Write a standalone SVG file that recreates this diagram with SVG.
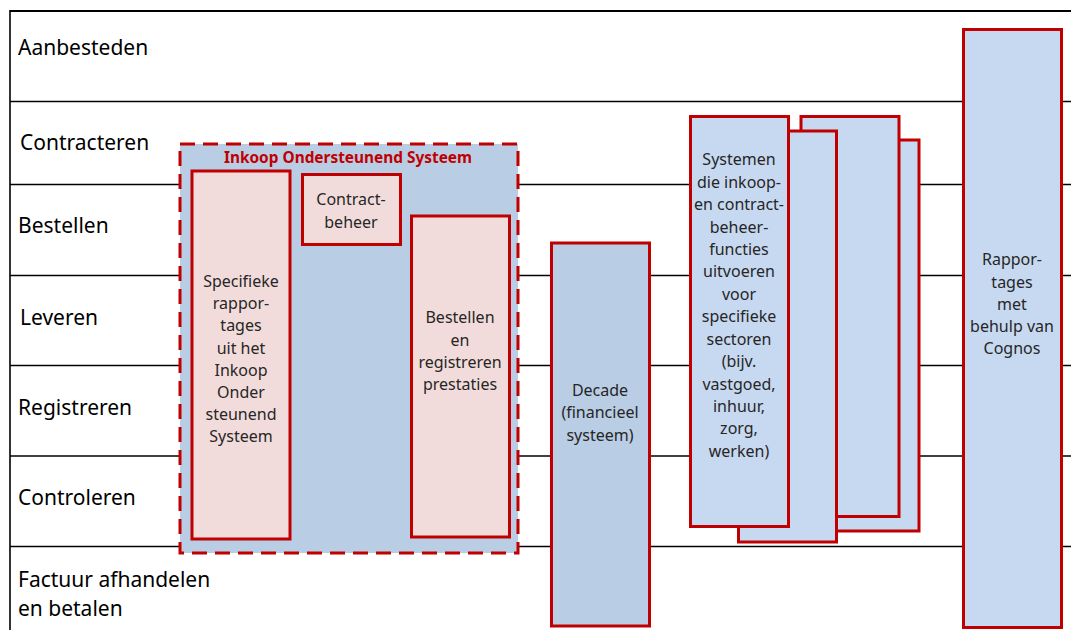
<svg xmlns="http://www.w3.org/2000/svg" width="1071" height="630" viewBox="0 0 1071 630">
<style>
.lane{fill:none;stroke:#000;stroke-width:1.6}
.lbl{font-family:"Noto Sans",sans-serif;font-size:21px;fill:#000}
.box{stroke:#c00000;stroke-width:3}
.pink{fill:#f2dcdb}
.blue{fill:#b9cde5}
.lblue{fill:#c6d9f1}
.t{font-family:"Noto Sans",sans-serif;font-size:16px;fill:#262626;text-anchor:middle}
.title{font-family:"Noto Sans",sans-serif;font-size:15.4px;font-weight:bold;fill:#c00000;text-anchor:middle}
</style>
<rect width="1071" height="630" fill="#fff"/>
<g id="lanes">
<line class="lane" x1="10" y1="11" x2="1071" y2="11" style="stroke-width:2.2"/>
<line class="lane" x1="10" y1="10" x2="10" y2="630"/>
<line class="lane" x1="10" y1="101.5" x2="1071" y2="101.5"/>
<line class="lane" x1="10" y1="184.5" x2="1071" y2="184.5"/>
<line class="lane" x1="10" y1="275.5" x2="1071" y2="275.5"/>
<line class="lane" x1="10" y1="365.5" x2="1071" y2="365.5"/>
<line class="lane" x1="10" y1="456" x2="1071" y2="456"/>
<line class="lane" x1="10" y1="546.5" x2="1071" y2="546.5"/>
<text class="lbl" x="18" y="55">Aanbesteden</text>
<text class="lbl" x="20" y="150">Contracteren</text>
<text class="lbl" x="18" y="233">Bestellen</text>
<text class="lbl" x="20" y="325">Leveren</text>
<text class="lbl" x="18" y="415">Registreren</text>
<text class="lbl" x="18" y="505">Controleren</text>
<text class="lbl" x="18" y="587">Factuur afhandelen</text>
<text class="lbl" x="18" y="616">en betalen</text>
</g>
<g id="ios">
<rect x="180" y="144" width="338" height="409" class="blue" stroke="#c00000" stroke-width="3" stroke-dasharray="15 8"/>
<text class="title" x="348" y="163">Inkoop Ondersteunend Systeem</text>
</g>
<g id="specifieke">
<rect x="192" y="171" width="98" height="368" class="box pink"/>
<text class="t" x="241" y="287">Specifieke</text>
<text class="t" x="241" y="309">rappor-</text>
<text class="t" x="241" y="331">tages</text>
<text class="t" x="241" y="354">uit het</text>
<text class="t" x="241" y="376">Inkoop</text>
<text class="t" x="241" y="398">Onder</text>
<text class="t" x="241" y="420">steunend</text>
<text class="t" x="241" y="442">Systeem</text>
</g>
<g id="contractbeheer">
<rect x="302.5" y="174.5" width="98" height="70" class="box pink"/>
<text class="t" x="351" y="205">Contract-</text>
<text class="t" x="351" y="228">beheer</text>
</g>
<g id="bestellen">
<rect x="411.5" y="216" width="98" height="321" class="box pink"/>
<text class="t" x="460" y="323">Bestellen</text>
<text class="t" x="460" y="346">en</text>
<text class="t" x="460" y="368">registreren</text>
<text class="t" x="460" y="390">prestaties</text>
</g>
<g id="decade">
<rect x="551.5" y="243" width="98" height="383" class="box blue"/>
<text class="t" x="600" y="396">Decade</text>
<text class="t" x="600" y="418">(financieel</text>
<text class="t" x="600" y="441">systeem)</text>
</g>
<g id="systemen">
<rect x="821" y="140" width="98" height="391" class="box lblue"/>
<rect x="801" y="116.5" width="98" height="400" class="box lblue"/>
<rect x="738.5" y="131" width="98" height="411" class="box lblue"/>
<rect x="690.5" y="116.5" width="98" height="410" class="box lblue"/>
<text class="t" x="739" y="165">Systemen</text>
<text class="t" x="739" y="187.5">die inkoop-</text>
<text class="t" x="739" y="210">en contract-</text>
<text class="t" x="739" y="232.5">beheer-</text>
<text class="t" x="739" y="255">functies</text>
<text class="t" x="739" y="277">uitvoeren</text>
<text class="t" x="739" y="299.5">voor</text>
<text class="t" x="739" y="322">specifieke</text>
<text class="t" x="739" y="344.5">sectoren</text>
<text class="t" x="739" y="367">(bijv.</text>
<text class="t" x="739" y="389.5">vastgoed,</text>
<text class="t" x="739" y="412">inhuur,</text>
<text class="t" x="739" y="434">zorg,</text>
<text class="t" x="739" y="456.5">werken)</text>
</g>
<g id="rapportages">
<rect x="963.5" y="29.5" width="98" height="598" class="box lblue"/>
<text class="t" x="1012" y="265">Rappor-</text>
<text class="t" x="1012" y="288">tages</text>
<text class="t" x="1012" y="310">met</text>
<text class="t" x="1012" y="332">behulp van</text>
<text class="t" x="1012" y="354">Cognos</text>
</g>
</svg>
